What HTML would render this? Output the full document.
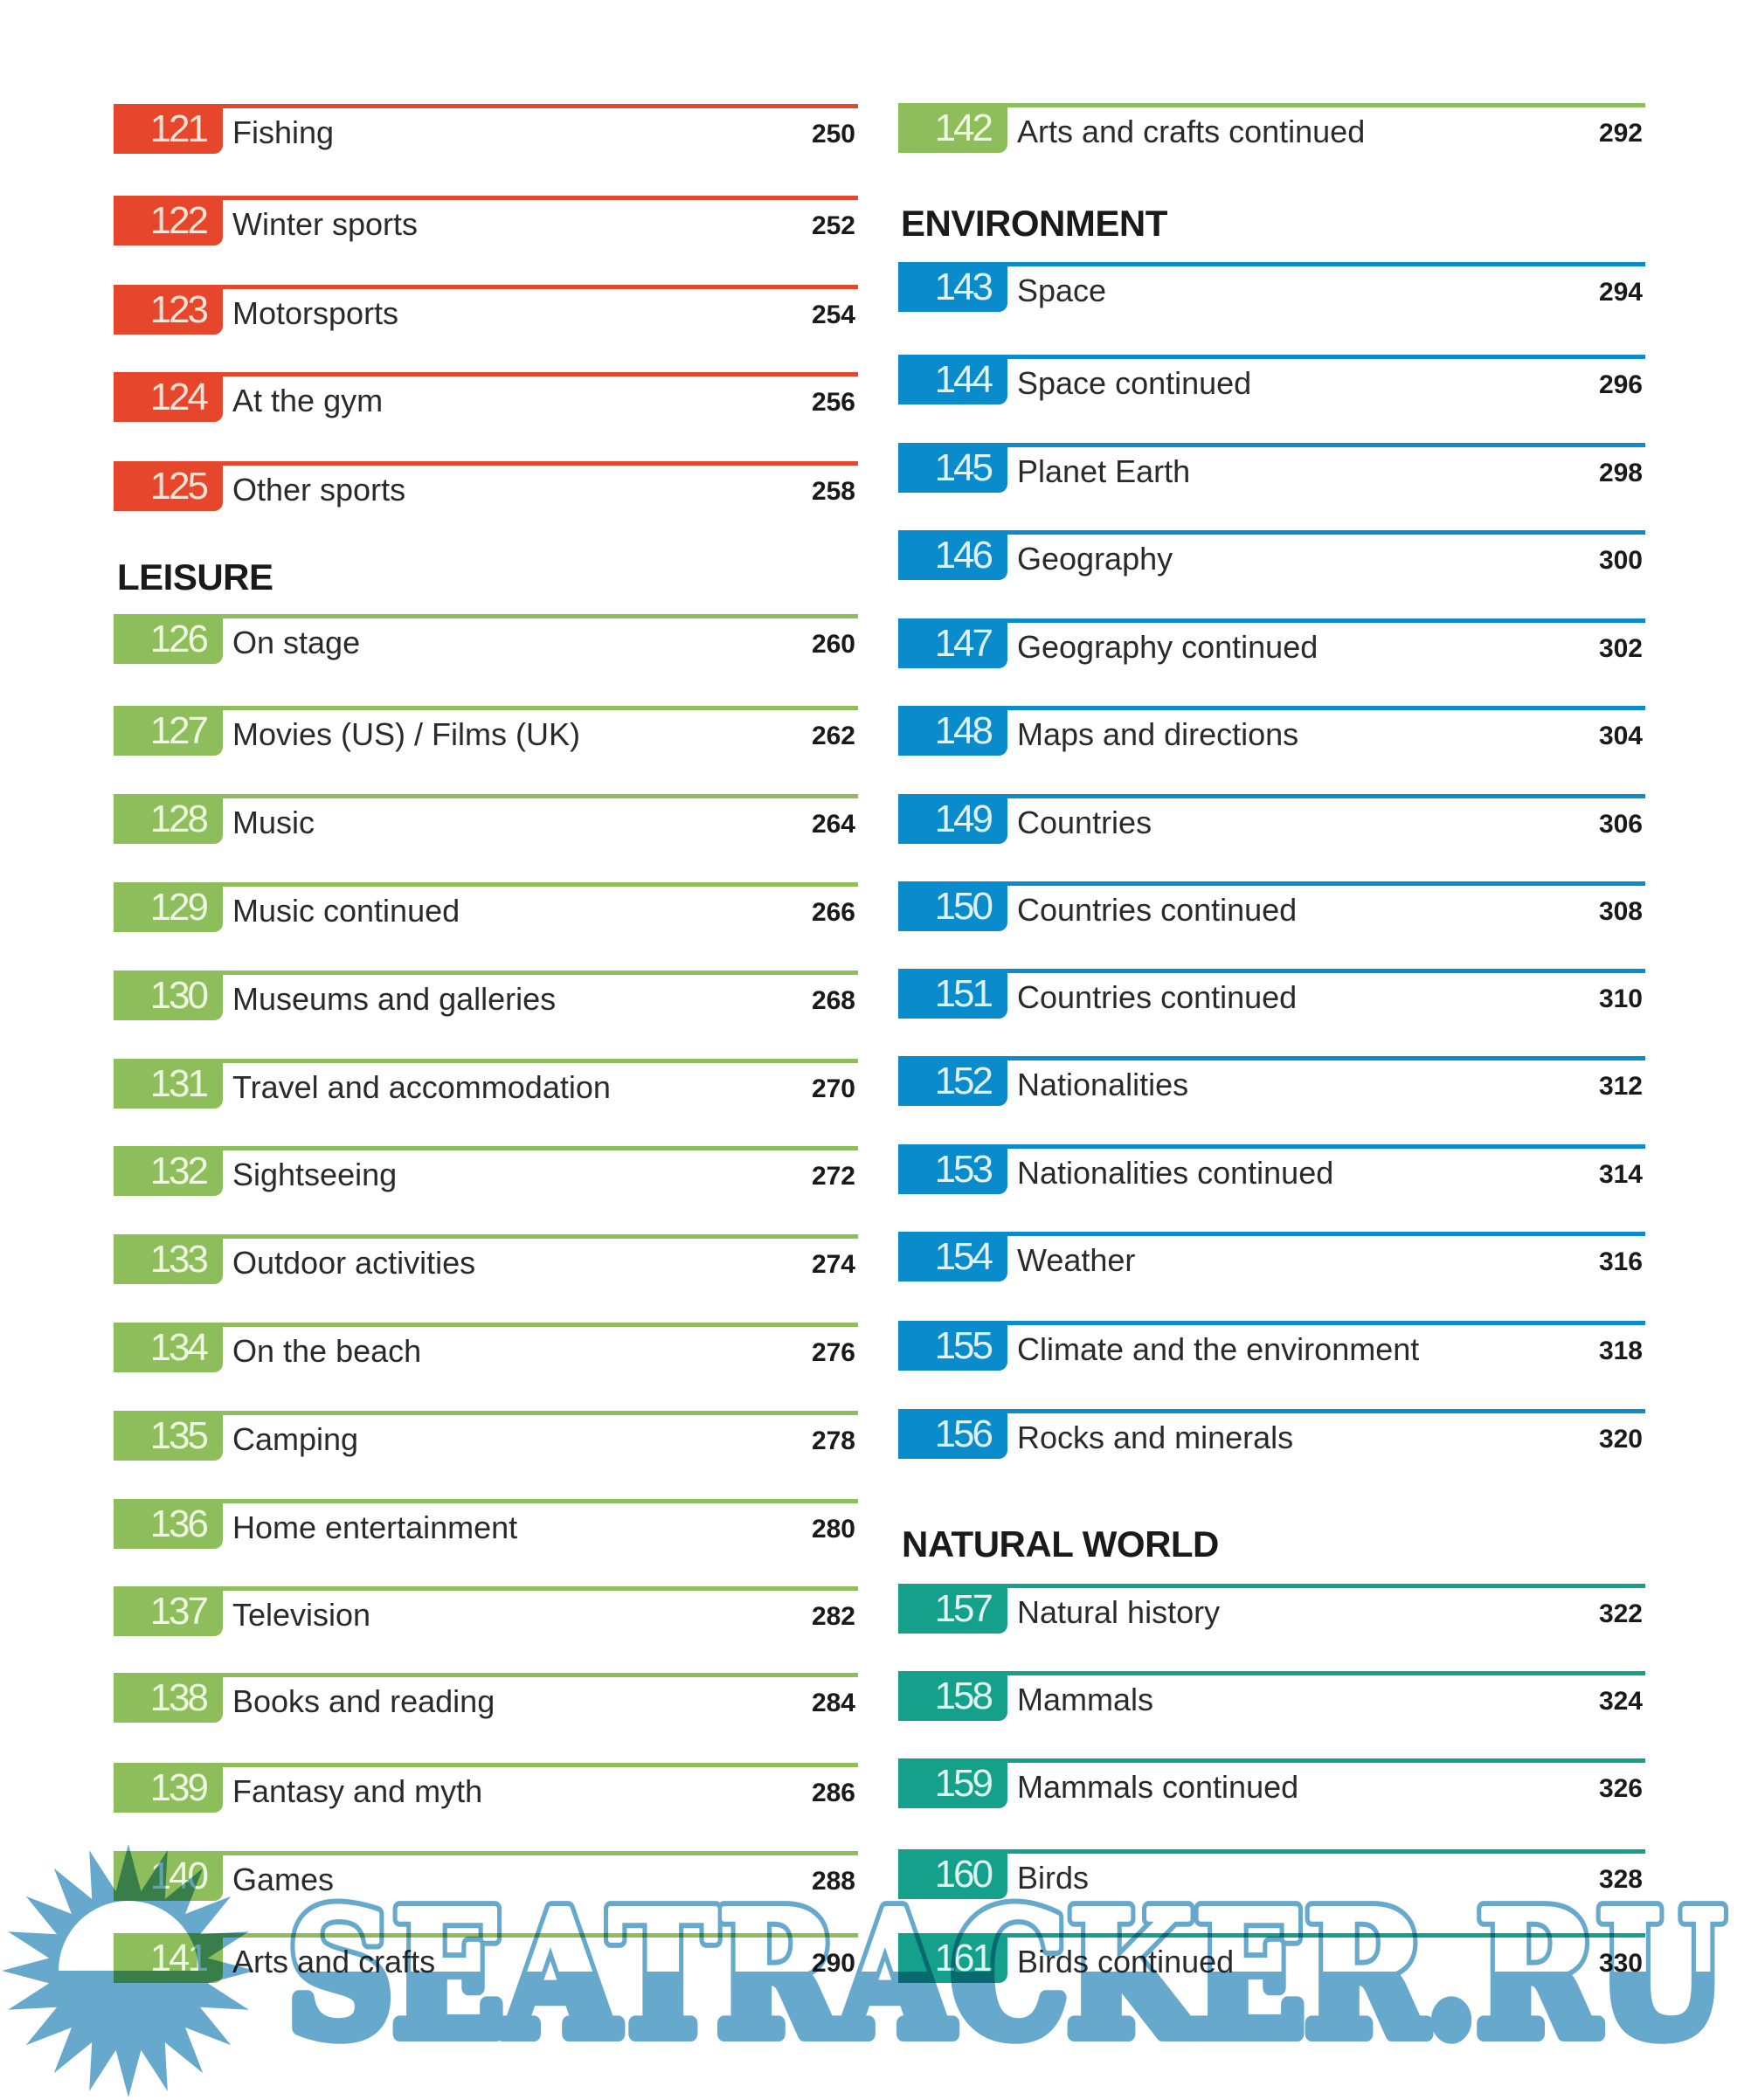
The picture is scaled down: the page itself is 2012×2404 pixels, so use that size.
<!DOCTYPE html>
<html><head><meta charset="utf-8">
<style>
html,body{margin:0;padding:0;background:#fff;}
body{width:2012px;height:2404px;position:relative;overflow:hidden;font-family:"Liberation Sans",sans-serif;}
.r{position:absolute;height:60px;}
.L{left:130px;width:852px;}
.R{left:1028px;width:855px;}
.r i{position:absolute;left:0;right:0;top:0;height:5px;}
.r b{position:absolute;left:0;top:0;width:125px;height:57px;border-bottom-right-radius:10px;font-weight:normal;font-size:44px;line-height:57px;text-align:right;padding-right:19px;box-sizing:border-box;letter-spacing:-3px;}
.r span{position:absolute;left:136px;top:0;font-size:36px;line-height:66px;color:#2a2a2a;white-space:nowrap;}
.r em{position:absolute;right:3px;top:0;font-style:normal;font-weight:bold;font-size:30px;line-height:70px;color:#1a1a1a;}
.red i,.red b{background:#e6462b;} .red b{color:#fde3d6;}
.grn i,.grn b{background:#8dbe5b;} .grn b{color:#eef7e0;}
.blu i,.blu b{background:#0a8bcc;} .blu b{color:#dff2fb;}
.tea i,.tea b{background:#14a08a;} .tea b{color:#dff5ee;}
.h{position:absolute;font-weight:bold;font-size:42px;line-height:43px;color:#1a1a1a;letter-spacing:-0.5px;white-space:nowrap;}
svg.wm{position:absolute;left:0;top:0;mix-blend-mode:multiply;pointer-events:none;}
</style></head><body>

<div class="r L red" style="top:119px"><i></i><b>121</b><span>Fishing</span><em>250</em></div>
<div class="r L red" style="top:224px"><i></i><b>122</b><span>Winter sports</span><em>252</em></div>
<div class="r L red" style="top:326px"><i></i><b>123</b><span>Motorsports</span><em>254</em></div>
<div class="r L red" style="top:426px"><i></i><b>124</b><span>At the gym</span><em>256</em></div>
<div class="r L red" style="top:528px"><i></i><b>125</b><span>Other sports</span><em>258</em></div>

<div class="h" style="left:134px;top:639px">LEISURE</div>

<div class="r L grn" style="top:703px"><i></i><b>126</b><span>On stage</span><em>260</em></div>
<div class="r L grn" style="top:808px"><i></i><b>127</b><span>Movies (US) / Films (UK)</span><em>262</em></div>
<div class="r L grn" style="top:909px"><i></i><b>128</b><span>Music</span><em>264</em></div>
<div class="r L grn" style="top:1010px"><i></i><b>129</b><span>Music continued</span><em>266</em></div>
<div class="r L grn" style="top:1111px"><i></i><b>130</b><span>Museums and galleries</span><em>268</em></div>
<div class="r L grn" style="top:1212px"><i></i><b>131</b><span>Travel and accommodation</span><em>270</em></div>
<div class="r L grn" style="top:1312px"><i></i><b>132</b><span>Sightseeing</span><em>272</em></div>
<div class="r L grn" style="top:1413px"><i></i><b>133</b><span>Outdoor activities</span><em>274</em></div>
<div class="r L grn" style="top:1514px"><i></i><b>134</b><span>On the beach</span><em>276</em></div>
<div class="r L grn" style="top:1615px"><i></i><b>135</b><span>Camping</span><em>278</em></div>
<div class="r L grn" style="top:1716px"><i></i><b>136</b><span>Home entertainment</span><em>280</em></div>
<div class="r L grn" style="top:1816px"><i></i><b>137</b><span>Television</span><em>282</em></div>
<div class="r L grn" style="top:1915px"><i></i><b>138</b><span>Books and reading</span><em>284</em></div>
<div class="r L grn" style="top:2018px"><i></i><b>139</b><span>Fantasy and myth</span><em>286</em></div>
<div class="r L grn" style="top:2119px"><i></i><b>140</b><span>Games</span><em>288</em></div>
<div class="r L grn" style="top:2213px"><i></i><b>141</b><span>Arts and crafts</span><em>290</em></div>

<div class="r R grn" style="top:118px"><i></i><b>142</b><span>Arts and crafts continued</span><em>292</em></div>

<div class="h" style="left:1031px;top:234px">ENVIRONMENT</div>

<div class="r R blu" style="top:300px"><i></i><b>143</b><span>Space</span><em>294</em></div>
<div class="r R blu" style="top:406px"><i></i><b>144</b><span>Space continued</span><em>296</em></div>
<div class="r R blu" style="top:507px"><i></i><b>145</b><span>Planet Earth</span><em>298</em></div>
<div class="r R blu" style="top:607px"><i></i><b>146</b><span>Geography</span><em>300</em></div>
<div class="r R blu" style="top:708px"><i></i><b>147</b><span>Geography continued</span><em>302</em></div>
<div class="r R blu" style="top:808px"><i></i><b>148</b><span>Maps and directions</span><em>304</em></div>
<div class="r R blu" style="top:909px"><i></i><b>149</b><span>Countries</span><em>306</em></div>
<div class="r R blu" style="top:1009px"><i></i><b>150</b><span>Countries continued</span><em>308</em></div>
<div class="r R blu" style="top:1109px"><i></i><b>151</b><span>Countries continued</span><em>310</em></div>
<div class="r R blu" style="top:1209px"><i></i><b>152</b><span>Nationalities</span><em>312</em></div>
<div class="r R blu" style="top:1310px"><i></i><b>153</b><span>Nationalities continued</span><em>314</em></div>
<div class="r R blu" style="top:1410px"><i></i><b>154</b><span>Weather</span><em>316</em></div>
<div class="r R blu" style="top:1512px"><i></i><b>155</b><span>Climate and the environment</span><em>318</em></div>
<div class="r R blu" style="top:1613px"><i></i><b>156</b><span>Rocks and minerals</span><em>320</em></div>

<div class="h" style="left:1032px;top:1746px">NATURAL WORLD</div>

<div class="r R tea" style="top:1813px"><i></i><b>157</b><span>Natural history</span><em>322</em></div>
<div class="r R tea" style="top:1913px"><i></i><b>158</b><span>Mammals</span><em>324</em></div>
<div class="r R tea" style="top:2013px"><i></i><b>159</b><span>Mammals continued</span><em>326</em></div>
<div class="r R tea" style="top:2117px"><i></i><b>160</b><span>Birds</span><em>328</em></div>
<div class="r R tea" style="top:2213px"><i></i><b>161</b><span>Birds continued</span><em>330</em></div>

<svg class="wm" width="2012" height="2404" viewBox="0 0 2012 2404" xmlns="http://www.w3.org/2000/svg">
  <defs>
    <clipPath id="top"><rect x="0" y="0" width="2012" height="2257"/></clipPath>
    <clipPath id="bot"><rect x="0" y="2257" width="2012" height="200"/></clipPath>
  </defs>
  <g transform="translate(147,2256)">
    <path fill="#66a9cd" fill-rule="evenodd" d="M145,0 L90.87,-14.39 137.90,-44.81 81.97,-41.77 117.31,-85.23 65.05,-65.05 85.23,-117.31 41.77,-81.97 44.81,-137.90 14.39,-90.87 0,-145 -14.39,-90.87 -44.81,-137.90 -41.77,-81.97 -85.23,-117.31 -65.05,-65.05 -117.31,-85.23 -81.97,-41.77 -137.90,-44.81 -90.87,-14.39 -145,0 -90.87,14.39 -137.90,44.81 -81.97,41.77 -117.31,85.23 -65.05,65.05 -85.23,117.31 -41.77,81.97 -44.81,137.90 -14.39,90.87 0,145 14.39,90.87 44.81,137.90 41.77,81.97 85.23,117.31 65.05,65.05 117.31,85.23 81.97,41.77 137.90,44.81 90.87,14.39 Z M-80,0 A80,80 0 0 1 80,0 Z"/>
  </g>
  <g font-family="DejaVu Serif, Liberation Serif, serif" font-weight="bold" font-size="196">
    <text x="329" y="2328" textLength="1645" lengthAdjust="spacingAndGlyphs" fill="#66a9cd" stroke="#66a9cd" stroke-width="18" stroke-linejoin="round" clip-path="url(#bot)">SEATRACKER.RU</text>
    <g clip-path="url(#top)">
      <text x="329" y="2328" textLength="1645" lengthAdjust="spacingAndGlyphs" fill="#66a9cd" stroke="#66a9cd" stroke-width="18" stroke-linejoin="round">SEATRACKER.RU</text>
      <text x="329" y="2328" textLength="1645" lengthAdjust="spacingAndGlyphs" fill="#ffffff" stroke="#ffffff" stroke-width="6" stroke-linejoin="round">SEATRACKER.RU</text>
    </g>
  </g>
</svg>

</body></html>
